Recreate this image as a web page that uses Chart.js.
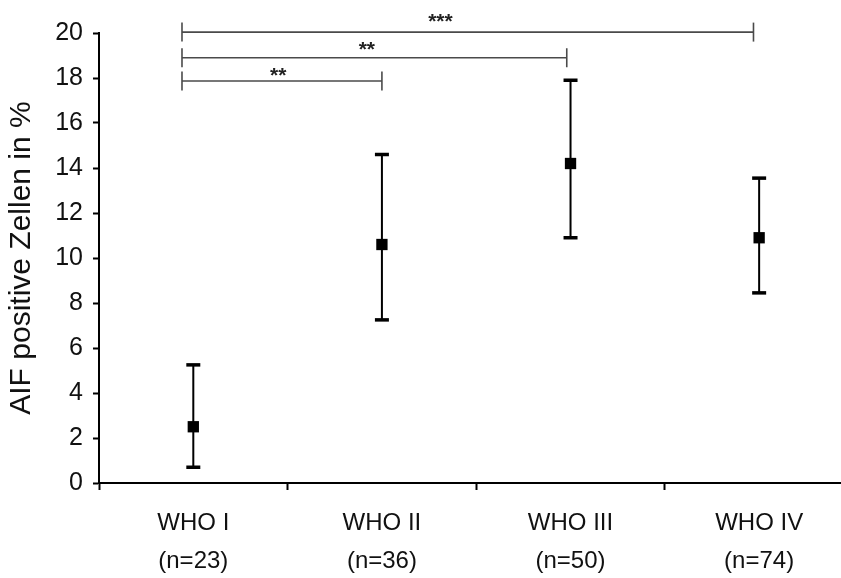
<!DOCTYPE html>
<html>
<head>
<meta charset="utf-8">
<script src="https://cdn.jsdelivr.net/npm/chart.js@4.4.1/dist/chart.umd.min.js"></script>
<style>
    html, body { margin: 0; padding: 0; background: #fff; overflow: hidden; }
    #wrap { width: 841px; height: 578px; }
</style>
</head>
<body>
<div id="wrap"><canvas id="aifChart" width="841" height="578"></canvas></div>
<script>
// data
const groups    = ['WHO I', 'WHO II', 'WHO III', 'WHO IV'];
const groupN    = ['(n=23)', '(n=36)', '(n=50)', '(n=74)'];
const means     = [2.5, 10.6, 14.2, 10.9];
const lowErr    = [0.7, 7.25, 10.9, 8.45];
const highErr   = [5.25, 14.6, 17.9, 13.55];

// significance brackets: start/end (category position), height, label
const brStart   = [0.94, 0.94, 0.94];
const brEnd     = [2.0, 2.98, 3.97];
const brLevel   = [17.87, 18.9, 20.04];
const brLabel   = ['**', '**', '***'];
const brLabelX  = [1.45, 1.92, 2.31];
const brLabelY  = [18.27, 19.42, 20.67];

const yTicks    = [0, 2, 4, 6, 8, 10, 12, 14, 16, 18, 20];

Chart.defaults.font.family = '"Liberation Sans", Arial, Helvetica, sans-serif';
Chart.defaults.color = '#000';

// error bar: vertical stroke between low/high, caps as horizontal 'line' points
const errData = [];
groups.forEach((g, i) => {
    errData.push({ x: i + 1, y: lowErr[i] });
    errData.push({ x: i + 1, y: highErr[i] });
    errData.push({ x: i + 1, y: null });
});

const bracketSets = brLevel.map((lvl, i) => ({
    type: 'line',
    data: [{ x: brStart[i], y: lvl }, { x: brEnd[i], y: lvl }],
    borderColor: '#4a4a4a',
    borderWidth: 1.6,
    pointStyle: 'line',
    pointRotation: 90,
    pointRadius: 9.5,
    pointBorderColor: '#4a4a4a',
    pointBorderWidth: 1.6,
    clip: false
}));

// stars over the brackets, positioned through the chart's scales
const starLabels = {
    id: 'starLabels',
    afterDatasetsDraw(chart) {
        const { ctx, scales: { x, y } } = chart;
        ctx.save();
        ctx.fillStyle = '#222';
        ctx.font = 'bold 21px "Liberation Sans", Arial, sans-serif';
        ctx.textAlign = 'center';
        ctx.textBaseline = 'middle';
        brLabel.forEach((t, i) => {
            ctx.fillText(t, x.getPixelForValue(brLabelX[i]), y.getPixelForValue(brLabelY[i]) + 4);
        });
        ctx.restore();
    }
};

new Chart(document.getElementById('aifChart').getContext('2d'), {
    type: 'scatter',
    data: {
        datasets: [
            {
                type: 'line',
                data: errData,
                borderColor: '#000',
                borderWidth: 2,
                spanGaps: false,
                pointStyle: 'line',
                pointRadius: 7,
                pointBorderColor: '#000',
                pointBorderWidth: 3.5,
                clip: false
            },
            {
                data: means.map((m, i) => ({ x: i + 1, y: m })),
                pointStyle: 'rect',
                pointRadius: 8,
                backgroundColor: '#000',
                borderColor: '#000',
                borderWidth: 0
            },
            ...bracketSets
        ]
    },
    options: {
        responsive: false,
        animation: false,
        events: [],
        layout: { autoPadding: false, padding: { top: 33, left: 0, right: 0, bottom: 0 } },
        plugins: {
            legend: { display: false },
            tooltip: { enabled: false }
        },
        scales: {
            x: {
                type: 'linear',
                min: 0.5,
                max: 4.434,
                afterBuildTicks: s => { s.ticks = [0.5, 1, 1.5, 2, 2.5, 3, 3.5, 4].map(v => ({ value: v })); },
                afterFit: s => { s.height = 95; s.paddingLeft = 0; s.paddingRight = 0; },
                ticks: {
                    autoSkip: false,
                    maxRotation: 0,
                    padding: 14,
                    font: { size: 24, lineHeight: 1.6 },
                    color: '#111',
                    callback: v => Number.isInteger(v) ? [groups[v - 1], groupN[v - 1]] : ''
                },
                grid: {
                    drawOnChartArea: false,
                    tickLength: 7,
                    tickWidth: 2,
                    tickColor: c => (c.tick && Number.isInteger(c.tick.value)) ? 'rgba(0,0,0,0)' : '#000'
                },
                border: { display: true, color: '#000', width: 2 }
            },
            y: {
                min: 0,
                max: 20,
                afterBuildTicks: s => { s.ticks = yTicks.map(v => ({ value: v })); },
                afterFit: s => { s.width = 99; s.paddingTop = 0; s.paddingBottom = 0; },
                ticks: {
                    padding: 10,
                    font: { size: 25 },
                    color: '#111'
                },
                grid: {
                    drawOnChartArea: false,
                    tickLength: 6,
                    tickWidth: 2,
                    tickColor: '#000'
                },
                border: { display: true, color: '#000', width: 2 },
                title: {
                    display: true,
                    text: 'AIF positive Zellen in %',
                    font: { size: 30 },
                    color: '#111',
                    padding: { top: 4, bottom: 0 }
                }
            }
        }
    },
    plugins: [starLabels]
});
</script>
</body>
</html>
